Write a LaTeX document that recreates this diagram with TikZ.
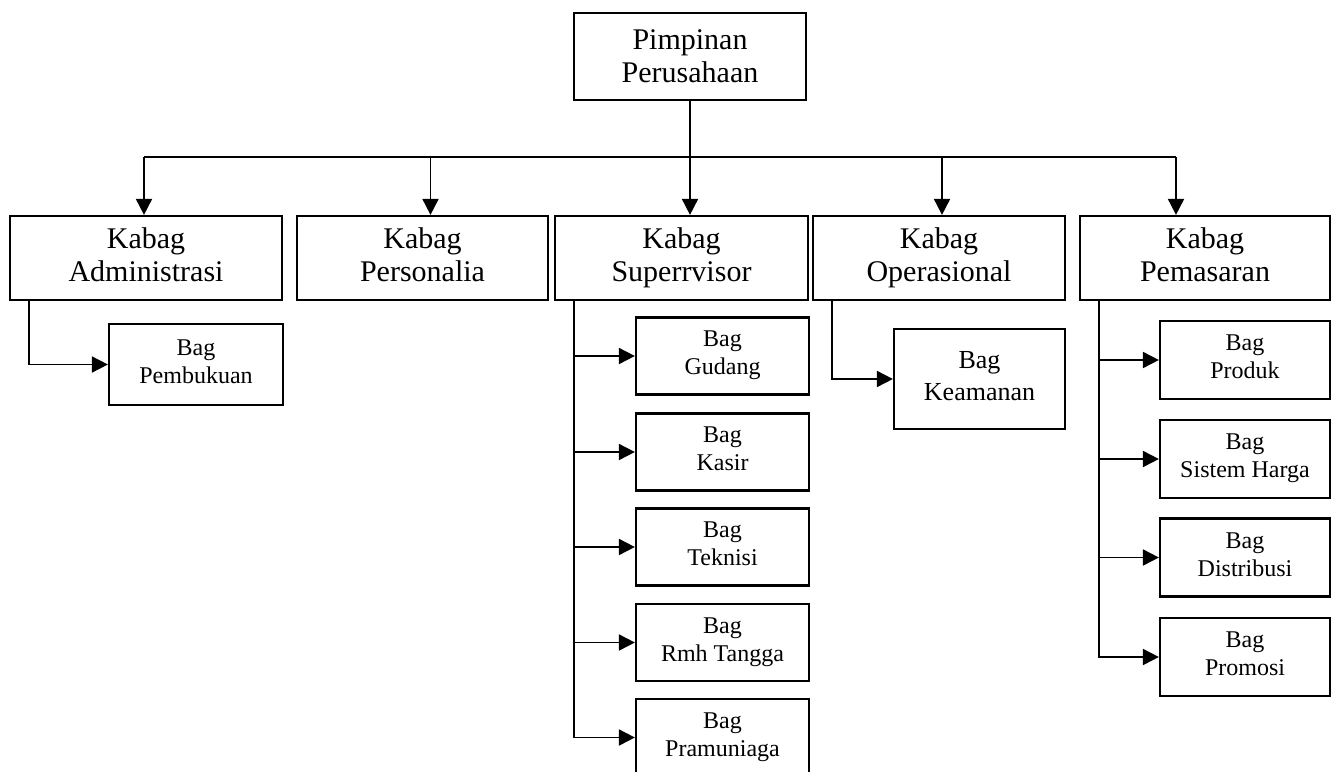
\documentclass[tikz,border=0pt]{standalone}
\usepackage{fontspec}
\setmainfont{Liberation Serif}
\usepackage{tikz}
\usetikzlibrary{arrows.meta}

\begin{document}
\begin{tikzpicture}[x=1pt,y=-1pt,
		box/.style={draw,line width=2.2pt,inner sep=0pt,align=center},
		kabag/.style={box,minimum height=84pt,text depth=7pt,font=\fontsize{30}{33}\selectfont},
		bagbox/.style={box,minimum width=173pt,minimum height=77pt,text depth=6pt,font=\fontsize{24}{28}\selectfont},
		arr/.style={line width=1.8pt,-{Triangle[length=16pt,width=16pt]}}]
		\clip (0,0) rectangle (1332,771);
		% pimpinan
		\node[box,minimum width=232pt,minimum height=87pt,font=\fontsize{30}{33}\selectfont] (top) at (690,56.5) {Pimpinan\\Perusahaan};
		% kabag
		\node[kabag,minimum width=272pt] (adm) at (146,258) {Kabag\\Administrasi};
		\node[kabag,minimum width=251pt] (pers) at (422.5,258) {Kabag\\Personalia};
		\node[kabag,minimum width=253pt] (sup) at (681.5,258) {Kabag\\Superrvisor};
		\node[kabag,minimum width=252pt] (ops) at (939,258) {Kabag\\Operasional};
		\node[kabag,minimum width=250pt] (pem) at (1205,258) {Kabag\\Pemasaran};
		% bag
		\node[bagbox,minimum width=174pt,minimum height=81pt] (pemb) at (196,364.5) {Bag\\Pembukuan};
		\node[bagbox] (gud) at (722.5,356) {Bag\\Gudang};
		\node[bagbox] (kas) at (722.5,452) {Bag\\Kasir};
		\node[bagbox] (tek) at (722.5,547) {Bag\\Teknisi};
		\node[bagbox] (rmh) at (722.5,642.5) {Bag\\Rmh Tangga};
		\node[bagbox] (pram) at (722.5,737.5) {Bag\\Pramuniaga};
		\node[bagbox,minimum width=171pt,minimum height=100pt,font=\fontsize{26}{32}\selectfont] (kea) at (979.5,379) {Bag\\Keamanan};
		\node[bagbox,minimum width=170pt,minimum height=78pt] (prod) at (1245,360) {Bag\\Produk};
		\node[bagbox,minimum width=170pt,minimum height=78pt] (sis) at (1245,459) {Bag\\Sistem Harga};
		\node[bagbox,minimum width=170pt,minimum height=78pt] (dis) at (1245,557.5) {Bag\\Distribusi};
		\node[bagbox,minimum width=170pt,minimum height=78pt] (pro) at (1245,657) {Bag\\Promosi};
		% garis utama
		\coordinate (bus) at (690,157);
		\coordinate (ja) at (144,157);
		\coordinate (je) at (1176,157);
		\draw[line width=1.8pt] (top.south) -- (bus);
		\draw[line width=2.4pt] (ja) -- (je);
		\draw[arr] (ja) -- (ja |- adm.north);
		\draw[arr] ([xshift=8pt]pers.north |- bus) -- ([xshift=8pt]pers.north);
		\draw[arr] (bus) -- (bus |- sup.north);
		\draw[arr] ([xshift=3pt]ops.north |- bus) -- ([xshift=3pt]ops.north);
		\draw[arr] (je) -- (je |- pem.north);
		% cabang
		\draw[arr] ([xshift=20pt]adm.south west) |- (pemb.west);
		\foreach \b in {gud,kas,tek,rmh,pram}
			\draw[arr] ([xshift=20pt]sup.south west) |- (\b.west);
		\draw[arr] ([xshift=20pt]ops.south west) |- (kea.west);
		\foreach \b in {prod,sis,dis,pro}
			\draw[arr] ([xshift=20pt]pem.south west) |- (\b.west);
	\end{tikzpicture}
\end{document}
